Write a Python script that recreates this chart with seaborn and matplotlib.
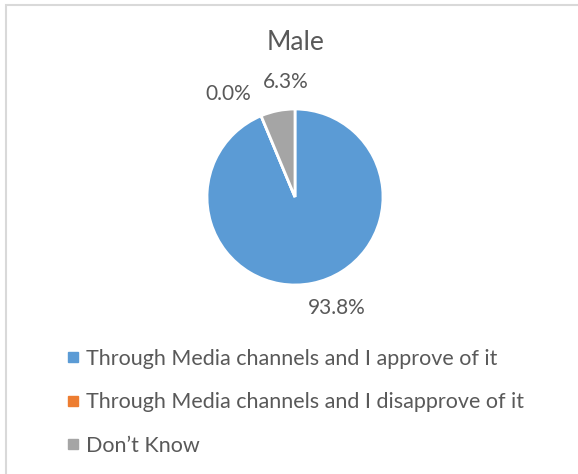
import matplotlib
matplotlib.use("Agg")
import matplotlib.pyplot as plt
from matplotlib.lines import Line2D
from matplotlib.patches import Rectangle
import seaborn as sns

categories = [
    "Through Media channels and I approve of it",
    "Through Media channels and I disapprove of it",
    "Don\u2019t Know",
]
shares = [93.8, 0.0, 6.3]
title = "Male"

sns.set_theme(style="white")
plt.rcParams["font.family"] = ["Lato", "DejaVu Sans"]
colors = ["#5B9BD5", "#ED7D31", "#A5A5A5"]
text_color = "#595959"

W, H = 578, 474
fig = plt.figure(figsize=(W / 100, H / 100), dpi=100)
fig.patch.set_facecolor("white")

# chart frame (light grey outline)
fig.patches.append(Rectangle((6 / W, -0.1), 1.2, 1 - 5 / H + 0.1,
                             transform=fig.transFigure, fill=False,
                             edgecolor="#D9D9D9", linewidth=1.5))

cx, cy, r = 295, 197, 88
ax = fig.add_axes([(cx - r) / W, 1 - (cy + r) / H, 2 * r / W, 2 * r / H])
wedges, _ = ax.pie(shares, colors=colors, startangle=90, counterclock=False,
                   radius=1, wedgeprops=dict(edgecolor="white", linewidth=2))
ax.set_xlim(-1, 1)
ax.set_ylim(-1, 1)
ax.set_aspect("auto")
ax.axis("off")

# value labels outside the slices
label_pos = [(0.47, -1.26), (-0.76, 1.17), (-0.11, 1.31)]
for v, (x, y) in zip(shares, label_pos):
    ax.text(x, y, f"{v:.1f}%", ha="center", va="center", fontsize=15,
            color=text_color, clip_on=False)

fig.text(296 / W, 1 - 43 / H, title, ha="center", va="center",
         fontsize=19, color=text_color)

handles = [Line2D([], [], marker="s", linestyle="none", markersize=6.5,
                  markerfacecolor=c, markeredgecolor=c) for c in colors]
fig.legend(handles, categories, loc="upper left",
           bbox_to_anchor=(57 / W, 1 - 338 / H), frameon=False,
           fontsize=15.5, labelcolor=text_color, handlelength=0.5,
           handletextpad=0.35, labelspacing=1.09, borderpad=0)

fig.savefig("out.png", dpi=100, facecolor="white")
